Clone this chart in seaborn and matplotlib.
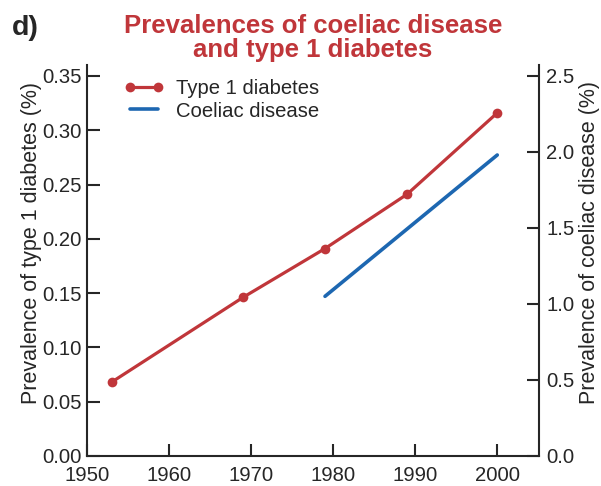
import pandas as pd
import seaborn as sns
import matplotlib.pyplot as plt

# type 1 diabetes prevalence (%), left axis
t1d_years = [1953, 1969, 1979, 1989, 2000]
t1d_prev = [0.068, 0.146, 0.191, 0.241, 0.316]

# coeliac disease prevalence (%), right axis
cd_years = [1979, 2000]
cd_prev = [1.05, 1.98]

left_ticks = [0.00, 0.05, 0.10, 0.15, 0.20, 0.25, 0.30, 0.35]
right_ticks = [0.0, 0.5, 1.0, 1.5, 2.0, 2.5]
x_ticks = [1950, 1960, 1970, 1980, 1990, 2000]

red = "#c0363a"
blue = "#1d67b1"

sns.set_style("ticks")
plt.rcParams['font.family'] = ['Liberation Sans', 'DejaVu Sans']

t1d = pd.DataFrame({"year": t1d_years, "prev": t1d_prev})
cd = pd.DataFrame({"year": cd_years, "prev": cd_prev})

fig = plt.figure(figsize=(6.01, 4.86), dpi=100)
ax = fig.add_axes([0.145, 0.062, 0.752, 0.804])
ax2 = ax.twinx()

sns.lineplot(data=t1d, x="year", y="prev", ax=ax, color=red, lw=2.3,
             marker="o", markersize=7, markeredgewidth=0, label="Type 1 diabetes")
sns.lineplot(data=cd, x="year", y="prev", ax=ax2, color=blue, lw=2.6,
             label="Coeliac disease")

ax.set_xlim(1950, 2005.1)
ax.set_ylim(0, 0.36)
ax2.set_ylim(0, 0.36 / 0.14)
ax.set_xticks(x_ticks)
ax.set_yticks(left_ticks)
ax.set_yticklabels([f"{v:.2f}" for v in left_ticks])
ax2.set_yticks(right_ticks)
ax2.set_yticklabels([f"{v:.1f}" for v in right_ticks])

for a in (ax, ax2):
    a.spines["top"].set_visible(False)
    for s in a.spines.values():
        s.set_linewidth(1.5)
ax.spines["right"].set_visible(False)
ax2.spines["left"].set_visible(False)
ax2.spines["bottom"].set_visible(False)

ax.tick_params(axis="both", direction="in", length=9, width=1.5, labelsize=14.6)
ax.tick_params(axis="y", pad=4)
ax.tick_params(axis="x", pad=7)
ax2.tick_params(axis="y", direction="in", length=9, width=1.5, labelsize=14.6, pad=5)

ax.set_xlabel("")
ax.set_ylabel("Prevalence of type 1 diabetes (%)", fontsize=15.5)
ax2.set_ylabel("Prevalence of coeliac disease (%)", fontsize=15.5)
ax.yaxis.set_label_coords(-0.1, 0.545)
ax2.yaxis.set_label_coords(1.088, 0.545)

# one legend for both lines
h1, l1 = ax.get_legend_handles_labels()
h2, l2 = ax2.get_legend_handles_labels()
ax2.get_legend().remove()
ax.legend(h1 + h2, l1 + l2, loc="upper left", frameon=False, fontsize=14.6,
          handlelength=2.0, handletextpad=0.6, labelspacing=0.15, numpoints=2,
          bbox_to_anchor=(0.04, 1.01))

ax.set_title("Prevalences of coeliac disease\nand type 1 diabetes", color=red,
             fontsize=18.5, fontweight="bold", linespacing=1.0, pad=6)
fig.text(0.02, 0.97, "d)", fontsize=20.5, fontweight="bold", va="top")

plt.savefig("out.png", dpi=100)
